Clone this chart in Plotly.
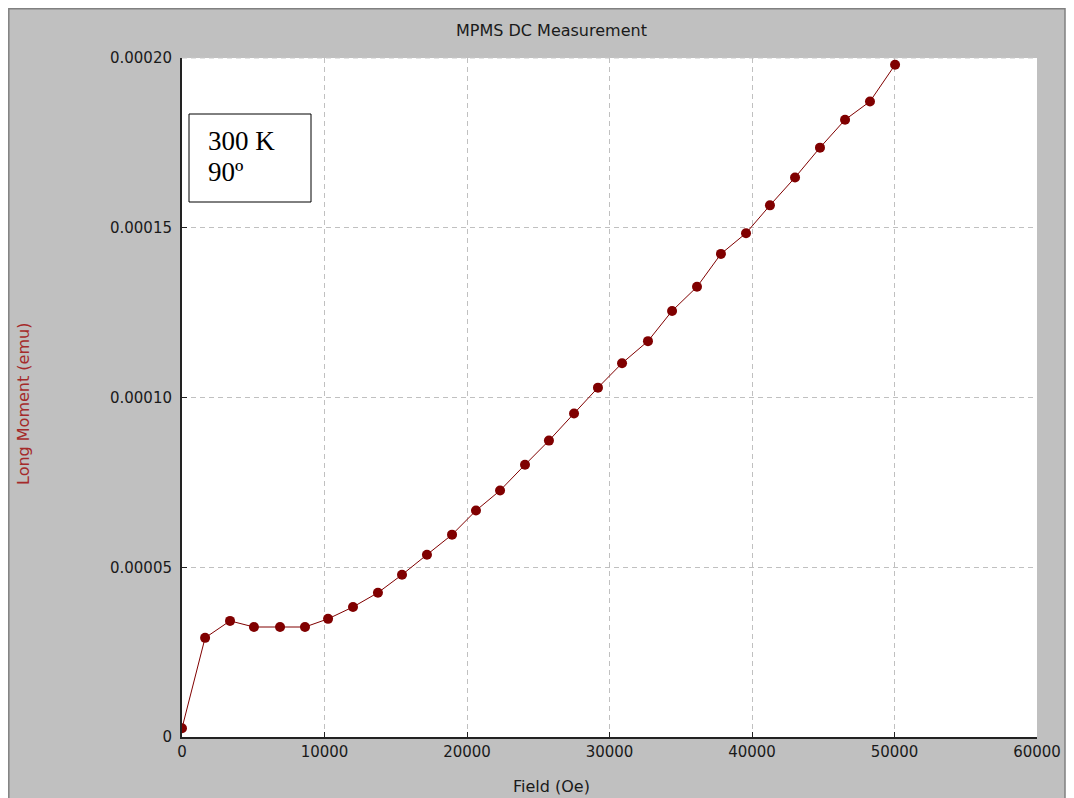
import plotly.graph_objects as go

# Data
field_oe = [0, 1620, 3370, 5050, 6880, 8630, 10250, 12000, 13750, 15440,
            17190, 18950, 20630, 22320, 24070, 25750, 27510, 29190, 30880, 32700,
            34390, 36140, 37820, 39580, 41260, 43020, 44770, 46530, 48280, 50040]
moment_emu = [2.6e-6, 2.92e-5, 3.42e-5, 3.24e-5, 3.24e-5, 3.24e-5, 3.48e-5, 3.83e-5, 4.25e-5, 4.78e-5,
              5.37e-5, 5.96e-5, 6.67e-5, 7.26e-5, 8.02e-5, 8.73e-5, 9.53e-5, 1.029e-4, 1.101e-4, 1.166e-4,
              1.255e-4, 1.326e-4, 1.423e-4, 1.484e-4, 1.566e-4, 1.648e-4, 1.736e-4, 1.818e-4, 1.872e-4, 1.98e-4]

x_ticks = [0, 10000, 20000, 30000, 40000, 50000, 60000]
x_tick_labels = ["0", "10000", "20000", "30000", "40000", "50000", "60000"]
y_ticks = [0, 0.00005, 0.0001, 0.00015, 0.0002]
y_tick_labels = ["0", "0.00005", "0.00010", "0.00015", "0.00020"]

# page has an 8px body margin; figure is sized to fill the rest of the window
OFF = 8
W, H = 1074 - OFF, 798 - OFF
L, R, T, B = 182 - OFF, 37, 58 - OFF, 61
PW, PH = W - L - R, H - T - B

def px(xp):  # page x -> paper
    return (xp - OFF - L) / PW

def py(yp):  # page y -> paper
    return (H - B - (yp - OFF)) / PH

fig = go.Figure()
fig.add_trace(go.Scatter(
    x=field_oe, y=moment_emu, mode="lines+markers",
    line=dict(color="#800000", width=1),
    marker=dict(color="#800000", size=10, line=dict(width=0)),
    showlegend=False, hoverinfo="x+y",
))

tick_font = dict(family="DejaVu Sans", size=15, color="#1a1a1a")
fig.update_layout(
    width=W, height=H,
    margin=dict(l=L, r=R, t=T, b=B),
    paper_bgcolor="white", plot_bgcolor="white",
    xaxis=dict(range=[0, 60000], tickvals=x_ticks, ticktext=x_tick_labels,
               showgrid=True, gridcolor="#c0c0c0", griddash="5px,4px", gridwidth=1,
               zeroline=False, showline=True, linecolor="#222222", linewidth=2,
               ticks="inside", ticklen=5, tickcolor="#222222", tickwidth=1,
               tickfont=tick_font, fixedrange=True),
    yaxis=dict(range=[0, 0.0002], tickvals=y_ticks, ticktext=y_tick_labels,
               showgrid=True, gridcolor="#c0c0c0", griddash="5px,4px", gridwidth=1,
               zeroline=False, showline=True, linecolor="#222222", linewidth=2,
               ticks="inside", ticklen=5, tickcolor="#222222", tickwidth=1,
               tickfont=tick_font, ticklabelstandoff=5, fixedrange=True),
    shapes=[
        # gray frame
        dict(type="rect", xref="paper", yref="paper", layer="below",
             x0=px(8.8), x1=px(1065), y0=py(820), y1=py(8.8),
             fillcolor="#c0c0c0", line=dict(color="#808080", width=1.5)),
        # white plot area
        dict(type="rect", xref="paper", yref="paper", layer="below",
             x0=0, x1=1, y0=0, y1=1, fillcolor="white", line=dict(width=0)),
        # top dashed border
        dict(type="line", xref="paper", yref="paper", layer="below",
             x0=0, x1=1, y0=1, y1=1, line=dict(color="#c8c8c8", width=1, dash="5px,4px")),
        # text box
        dict(type="rect", xref="paper", yref="paper", layer="above",
             x0=px(189), x1=px(311), y0=py(202), y1=py(114),
             fillcolor="white", line=dict(color="black", width=1)),
    ],
    annotations=[
        dict(text="MPMS DC Measurement", xref="paper", yref="paper",
             x=px(551), y=py(31), xanchor="center", yanchor="middle", showarrow=False,
             font=dict(family="DejaVu Sans", size=16, color="#1a1a1a")),
        dict(text="Field (Oe)", xref="paper", yref="paper",
             x=px(551), y=py(786), xanchor="center", yanchor="middle", showarrow=False,
             font=dict(family="DejaVu Sans", size=16, color="#1a1a1a")),
        dict(text="Long Moment (emu)", xref="paper", yref="paper",
             x=px(23), y=py(404), xanchor="center", yanchor="middle", showarrow=False,
             textangle=-90,
             font=dict(family="DejaVu Sans", size=16, color="#a52a2a")),
        dict(text="300 K", xref="paper", yref="paper",
             x=px(206), y=py(141), xanchor="left", yanchor="middle", showarrow=False,
             font=dict(family="Liberation Serif", size=27, color="black")),
        dict(text="90º", xref="paper", yref="paper",
             x=px(206), y=py(172), xanchor="left", yanchor="middle", showarrow=False,
             font=dict(family="Liberation Serif", size=27, color="black")),
    ],
)

fig.write_html("out.html")
